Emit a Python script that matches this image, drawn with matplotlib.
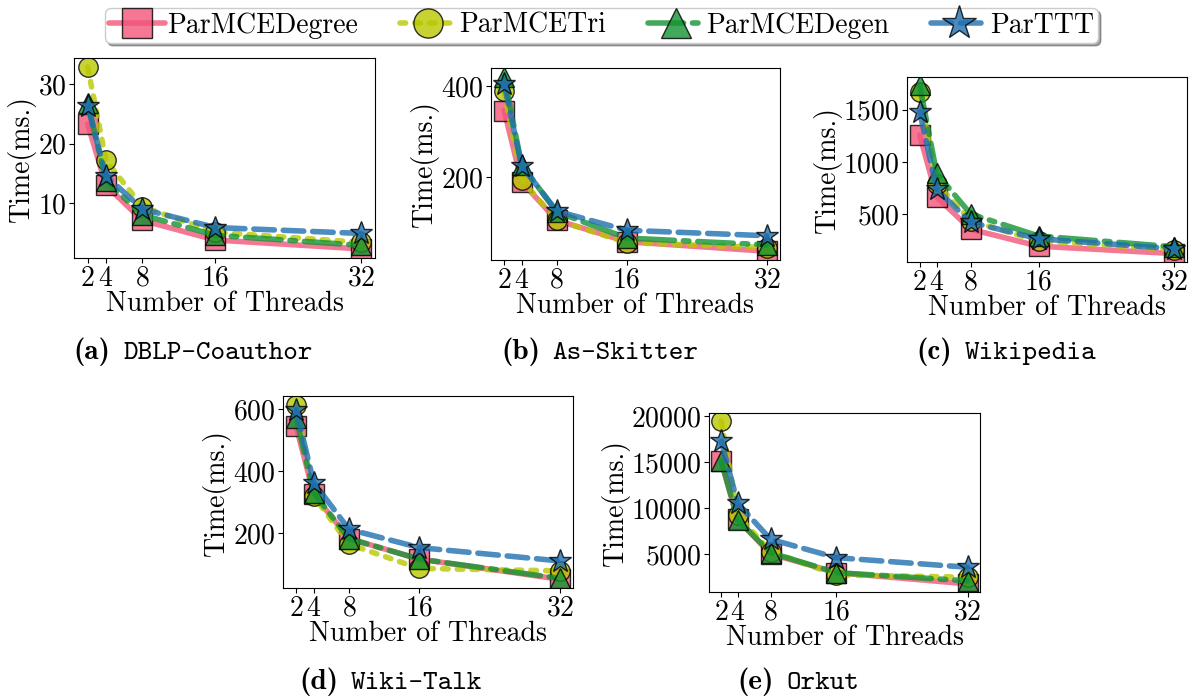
import matplotlib.pyplot as plt
from matplotlib.offsetbox import TextArea, HPacker, AnnotationBbox

plt.rcParams['font.family'] = 'cmr10'
plt.rcParams['mathtext.fontset'] = 'cm'
plt.rcParams['axes.formatter.use_mathtext'] = True
plt.rcParams['font.size'] = 20

threads = [2, 4, 8, 16, 32]
algos = ['ParMCEDegree', 'ParMCETri', 'ParMCEDegen', 'ParTTT']

# rows: ParMCEDegree, ParMCETri, ParMCEDegen, ParTTT
dblp = [[23.3, 13.0, 7.1, 3.8, 2.3],
        [32.9, 17.2, 9.4, 5.1, 3.4],
        [26.8, 13.8, 8.0, 4.6, 2.9],
        [26.4, 14.6, 9.0, 5.9, 4.9]]
skitter = [[346, 190, 106, 59, 38],
           [388, 194, 106, 57, 46],
           [420, 227, 124, 67, 52],
           [404, 225, 126, 84, 72]]
wikipedia = [[1257, 663, 354, 191, 120],
             [1668, 792, 435, 240, 159],
             [1734, 889, 500, 289, 185],
             [1480, 737, 419, 263, 166]]
wikitalk = [[544, 325, 183, 117, 52],
            [614, 320, 165, 87, 79],
            [571, 330, 183, 117, 55],
            [598, 363, 213, 154, 111]]
orkut = [[15100, 8770, 5000, 2970, 1740],
         [19490, 9240, 5250, 2720, 2470],
         [15100, 8700, 5140, 2970, 2070],
         [17280, 10510, 6600, 4600, 3550]]

colors = ['#f2557a', '#b8c800', '#139433', '#1f6fb0']
markers = ['s', 'o', '^', '*']
msizes = [14, 14, 14, 17]
styles = ['-', ':', '-.', '--']

W, H = 1190, 698
fig = plt.figure(figsize=(W / 100, H / 100), dpi=100)


def box(x0, x1, y0, y1):
    return [x0 / W, 1 - y1 / H, (x1 - x0) / W, (y1 - y0) / H]


panels = [
    (dblp, box(74, 375, 58, 258), [10, 20, 30], '(a)', 'DBLP-Coauthor', (193, 352)),
    (skitter, box(491, 780, 68, 260), [200, 400], '(b)', 'As-Skitter', (600, 352)),
    (wikipedia, box(907, 1187, 77, 262), [500, 1000, 1500], '(c)', 'Wikipedia', (1006, 352)),
    (wikitalk, box(283, 573, 396, 588), [200, 400, 600], '(d)', 'Wiki-Talk', (391, 682)),
    (orkut, box(709, 980, 413, 592), [5000, 10000, 15000, 20000], '(e)', 'Orkut', (798, 682)),
]

for data, pos, yt, tag, name, cpos in panels:
    ax = fig.add_axes(pos)
    for i, vals in enumerate(data):
        ax.plot(threads, vals, color=colors[i], linestyle=styles[i], linewidth=4,
                marker=markers[i], markersize=msizes[i], markeredgecolor='black',
                markeredgewidth=1, alpha=0.8, label=algos[i],
                solid_capstyle='round', dash_capstyle='round')
    ax.set_xticks(threads)
    ax.set_yticks(yt)
    ax.set_xlabel('Number of Threads', labelpad=-1)
    ax.set_ylabel('Time(ms.)', labelpad=1)
    ax.tick_params(pad=2)

    t1 = TextArea(tag, textprops=dict(family='cmb10', fontsize=21))
    t2 = TextArea(name, textprops=dict(family='cmtt10', fontsize=20))
    cap = HPacker(children=[t1, t2], pad=0, sep=9, align='baseline')
    fig.add_artist(AnnotationBbox(cap, (cpos[0] / W, 1 - cpos[1] / H),
                                  xycoords='figure fraction', frameon=False,
                                  box_alignment=(0.5, 0.5)))
    if tag == '(a)':
        handles, labels = ax.get_legend_handles_labels()

fig.legend(handles, labels, loc='lower left', ncol=4, mode='expand',
           bbox_to_anchor=(105 / W, 1 - 43 / H, (1098 - 105) / W, 40 / H),
           fancybox=True, shadow=True, fontsize=20, markerscale=1.5,
           handlelength=2.0, handletextpad=0.1, borderaxespad=0, borderpad=0.15)

fig.savefig('out.png', dpi=100)
